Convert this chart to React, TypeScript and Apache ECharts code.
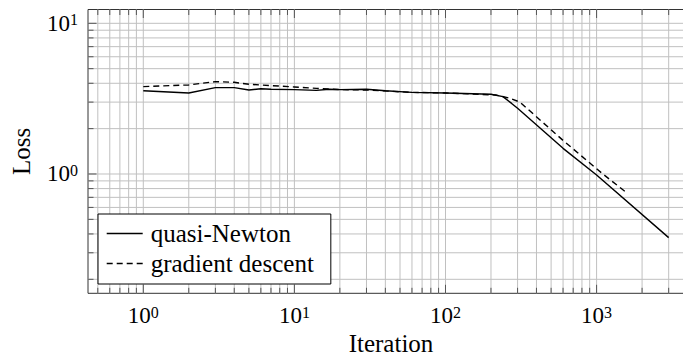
import { useEffect, useRef } from "react";
import * as echarts from "echarts";

// ---- data ----
const quasiNewtonX = [1, 2, 3, 4, 5, 6, 7, 10, 14, 17, 20, 30, 40, 60, 100, 200, 240, 274, 300, 600, 1000, 3000];
const quasiNewtonY = [3.57, 3.45, 3.74, 3.74, 3.61, 3.68, 3.65, 3.63, 3.59, 3.65, 3.63, 3.65, 3.57, 3.48, 3.45, 3.38, 3.26, 2.94, 2.73, 1.48, 0.985, 0.378];
const gradientX = [1, 2, 3, 4, 5, 10, 14, 20, 30, 60, 100, 217, 268, 311, 600, 1100, 1550];
const gradientY = [3.8, 3.9, 4.1, 4.06, 3.94, 3.78, 3.7, 3.63, 3.61, 3.48, 3.45, 3.34, 3.18, 3.0, 1.67, 1.0, 0.763];

// axis structure
const xDecades = [-1, 0, 1, 2, 3];
const yDecades = [-1, 0, 1];
const mantissas = [1, 2, 3, 4, 5, 6, 7, 8, 9];
const X_MIN = 0.4306;
const X_MAX = 4413;
const Y_MIN = 0.1615;
const Y_MAX = 12.35;

const FONT = "Liberation Serif";
const GRID_COLOR = "#c0c0c0";
const TICK_COLOR = "#555555";
const FRAME_COLOR = "#333333";

function gridValues(decades: number[], lo: number, hi: number) {
  const out: number[][] = [];
  decades.forEach((d) => {
    mantissas.forEach((m) => {
      const v = Number((m * Math.pow(10, d)).toPrecision(6));
      if (v >= lo && v <= hi) out.push([v, m === 1 ? 1 : 0]);
    });
  });
  return out;
}

function powLabel(v: number) {
  const e = Math.log10(v);
  const r = Math.round(e);
  if (Math.abs(e - r) > 1e-6) return "";
  return `{b|10}{s|${r}}`;
}

const richLabel = {
  b: { fontSize: 23, lineHeight: 23, verticalAlign: "bottom", fontFamily: FONT, color: "#000" },
  s: { fontSize: 16, lineHeight: 16, verticalAlign: "top", padding: [0, 0, 12, 0], fontFamily: FONT, color: "#000" },
};

export default function App() {
  const ref = useRef<HTMLDivElement>(null);
  useEffect(() => {
    if (!ref.current) return;
    const chart = echarts.init(ref.current, undefined, { renderer: "svg" });

    const xGrid = gridValues(xDecades, X_MIN, X_MAX).map((p) => [p[0], 1, p[1]]);
    const yGrid = gridValues(yDecades, Y_MIN, Y_MAX).map((p) => [1, p[0], p[1]]);

    const option: any = {
      animation: false,
      backgroundColor: "#ffffff",
      textStyle: { fontFamily: FONT },
      grid: {
        left: 88,
        top: 9.5,
        width: 606,
        height: 283.8,
        outerBoundsMode: "none",
        containLabel: false,
        show: true,
        borderColor: FRAME_COLOR,
        borderWidth: 1,
        backgroundColor: "transparent",
      },
      legend: {
        data: ["quasi-Newton", "gradient descent"],
        orient: "vertical",
        left: 98,
        top: 214,
        padding: [7, 17, 8, 8],
        itemGap: 5,
        itemWidth: 36,
        itemHeight: 14,
        backgroundColor: "#ffffff",
        borderColor: "#000000",
        borderWidth: 1,
        borderRadius: 0,
        selectedMode: false,
        itemStyle: { color: "transparent", borderWidth: 0, opacity: 0 },
        lineStyle: { width: 1.4 },
        textStyle: { fontFamily: FONT, fontSize: 25, lineHeight: 25, color: "#000", padding: [0, 0, 0, 3] },
      },
      xAxis: {
        type: "log",
        logBase: 10,
        min: X_MIN,
        max: X_MAX,
        name: "Iteration",
        nameLocation: "middle",
        nameGap: 37.5,
        nameMoveOverlap: false,
        nameTextStyle: { fontFamily: FONT, fontSize: 25, color: "#000" },
        axisLine: { show: false },
        axisTick: { show: false },
        splitLine: { show: false },
        minorTick: { show: false },
        axisLabel: { formatter: powLabel, rich: richLabel, margin: 11, showMinLabel: false, showMaxLabel: false },
      },
      yAxis: {
        type: "log",
        logBase: 10,
        min: Y_MIN,
        max: Y_MAX,
        name: "Loss",
        nameLocation: "middle",
        nameGap: 54,
        nameMoveOverlap: false,
        nameTextStyle: { fontFamily: FONT, fontSize: 25, color: "#000" },
        axisLine: { show: false },
        axisTick: { show: false },
        splitLine: { show: false },
        minorTick: { show: false },
        axisLabel: { formatter: powLabel, rich: richLabel, margin: 10, showMinLabel: false, showMaxLabel: false },
      },
      series: [
        {
          type: "custom",
          name: "xgrid",
          z: 1,
          silent: true,
          data: xGrid,
          renderItem: (params: any, api: any) => {
            const v = api.value(0);
            const major = api.value(2) === 1;
            const pt = api.coord([v, 1]);
            const cs = params.coordSys;
            const top = cs.y;
            const bottom = cs.y + cs.height;
            const len = major ? 8.5 : 5.5;
            return {
              type: "group",
              children: [
                { type: "line", shape: { x1: pt[0], y1: top, x2: pt[0], y2: bottom }, style: { stroke: GRID_COLOR, lineWidth: 1 } },
                { type: "line", shape: { x1: pt[0], y1: bottom, x2: pt[0], y2: bottom - len }, style: { stroke: TICK_COLOR, lineWidth: 1 } },
                { type: "line", shape: { x1: pt[0], y1: top, x2: pt[0], y2: top + len }, style: { stroke: TICK_COLOR, lineWidth: 1 } },
              ],
            };
          },
        },
        {
          type: "custom",
          name: "ygrid",
          z: 1,
          silent: true,
          data: yGrid,
          renderItem: (params: any, api: any) => {
            const v = api.value(1);
            const major = api.value(2) === 1;
            const pt = api.coord([1, v]);
            const cs = params.coordSys;
            const left = cs.x;
            const right = cs.x + cs.width;
            const len = major ? 8.5 : 5.5;
            return {
              type: "group",
              children: [
                { type: "line", shape: { x1: left, y1: pt[1], x2: right, y2: pt[1] }, style: { stroke: GRID_COLOR, lineWidth: 1 } },
                { type: "line", shape: { x1: left, y1: pt[1], x2: left + len, y2: pt[1] }, style: { stroke: TICK_COLOR, lineWidth: 1 } },
                { type: "line", shape: { x1: right, y1: pt[1], x2: right - len, y2: pt[1] }, style: { stroke: TICK_COLOR, lineWidth: 1 } },
              ],
            };
          },
        },
        {
          type: "line",
          name: "quasi-Newton",
          z: 3,
          symbol: "none",
          showSymbol: false,
          data: quasiNewtonX.map((x, i) => [x, quasiNewtonY[i]]),
          lineStyle: { color: "#000", width: 1.4, type: "solid" },
          itemStyle: { color: "#000" },
        },
        {
          type: "line",
          name: "gradient descent",
          z: 3,
          symbol: "none",
          showSymbol: false,
          data: gradientX.map((x, i) => [x, gradientY[i]]),
          lineStyle: { color: "#000", width: 1.4, type: [6, 4] },
          itemStyle: { color: "#000" },
        },
      ],
    };
    chart.setOption(option);
    return () => chart.dispose();
  }, []);
  return <div ref={ref} style={{ position: "fixed", left: 0, top: 0, width: 683, height: 358 }} />;
}
